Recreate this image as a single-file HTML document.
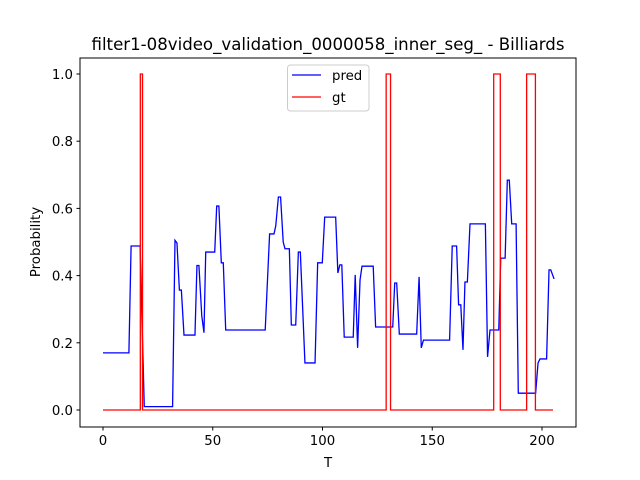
<!DOCTYPE html>
<html><head><meta charset="utf-8"><style>
body{margin:0;background:#fff;}
svg{display:block;font-family:"DejaVu Sans","Liberation Sans",sans-serif;}
</style></head><body>
<svg id="chart" width="640" height="480" viewBox="0 0 640 480">
<text x="328" y="50" font-size="16.6" text-anchor="middle">filter1-08video_validation_0000058_inner_seg_ - Billiards</text>
<g id="plot"></g>
<rect x="80" y="58" width="496" height="369" fill="none" stroke="#000" stroke-width="1"/>
<text x="328" y="467" font-size="13.3" text-anchor="middle">T</text>
<text x="40" y="242" font-size="13.3" text-anchor="middle" transform="rotate(-90 40 242)">Probability</text>
<g>
<rect x="287.5" y="65" width="81.5" height="46" rx="3" fill="#fff" fill-opacity="0.8" stroke="#ccc"/>
<line x1="292" y1="75" x2="321" y2="75" stroke="blue" stroke-width="1.3"/>
<text x="332" y="80" font-size="13.3">pred</text>
<line x1="292" y1="97" x2="321" y2="97" stroke="red" stroke-width="1.3"/>
<text x="332" y="102" font-size="13.3">gt</text>
</g>
</svg>
<script>
const predT=[0,11.8,12.8,16.9,18.8,31.7,32.8,33.7,34.8,35.7,36.9,41.9,42.8,43.7,45,46,46.8,50.9,51.8,52.8,53.9,54.8,55.9,73.9,75.9,77.9,78.7,79.9,80.9,82.1,82.9,84.9,85.8,87.8,89,89.9,92,96.6,97.8,99.9,101,106,107,107.9,108.8,109.9,114,114.9,116,117.1,118,123.1,124.2,132,132.9,133.8,135,142.9,144,145,146,157.9,159.1,161.1,162,163,164,164.9,166,167.2,174.2,175.2,176.3,180.3,181.2,183.2,184.2,185.1,186.2,188.2,189.2,197.1,198.2,199.1,202.1,203.2,204,205.5];
const predV=[0.17,0.17,0.488,0.488,0.01,0.01,0.505,0.497,0.357,0.357,0.223,0.223,0.43,0.43,0.28,0.23,0.47,0.47,0.607,0.607,0.438,0.438,0.238,0.238,0.524,0.524,0.548,0.634,0.634,0.5,0.48,0.48,0.253,0.253,0.47,0.47,0.14,0.14,0.438,0.438,0.574,0.574,0.408,0.432,0.432,0.217,0.217,0.402,0.185,0.387,0.428,0.428,0.247,0.247,0.378,0.378,0.226,0.226,0.396,0.185,0.208,0.208,0.488,0.488,0.313,0.313,0.179,0.381,0.381,0.554,0.554,0.158,0.238,0.238,0.452,0.452,0.684,0.684,0.554,0.554,0.05,0.05,0.14,0.152,0.152,0.417,0.417,0.39];
const gtT=[0,17,17,18,18,129,129,131,131,178,178,181,181,193,193,197,197,205];
const gtV=[0,0,1,1,0,0,1,1,0,0,1,1,0,0,1,1,0,0];
const xTicks=[0,50,100,150,200];
const yTicks=[0,0.2,0.4,0.6,0.8,1.0];
const xs=t=>103+t*2.195;
const ys=v=>410-v*336;
const NS="http://www.w3.org/2000/svg";
const g=document.getElementById('plot');
function mk(tag,attrs){const e=document.createElementNS(NS,tag);for(const k in attrs)e.setAttribute(k,attrs[k]);g.appendChild(e);return e;}
xTicks.forEach(t=>{
 const l=mk('line',{x1:xs(t),x2:xs(t),y1:427,y2:430.5,stroke:'#000'});
 
 
 const tx=mk('text',{x:xs(t),y:445,'font-size':13.3,'text-anchor':'middle'});tx.textContent=String(t);
 
 
});
yTicks.forEach(v=>{
 const l=mk('line',{x1:76.5,x2:80,y1:ys(v),y2:ys(v),stroke:'#000'});
 
 
 const tx=mk('text',{x:73,y:ys(v)+5,'font-size':13.3,'text-anchor':'end'});tx.textContent=v.toFixed(1);
 
 
});
const p1=mk('polyline',{points:predT.map((t,i)=>xs(t)+','+ys(predV[i])).join(' '),fill:'none',stroke:'blue','stroke-width':1.3});


const p2=mk('polyline',{points:gtT.map((t,i)=>xs(t)+','+ys(gtV[i])).join(' '),fill:'none',stroke:'red','stroke-width':1.3});


</script>
</body></html>
